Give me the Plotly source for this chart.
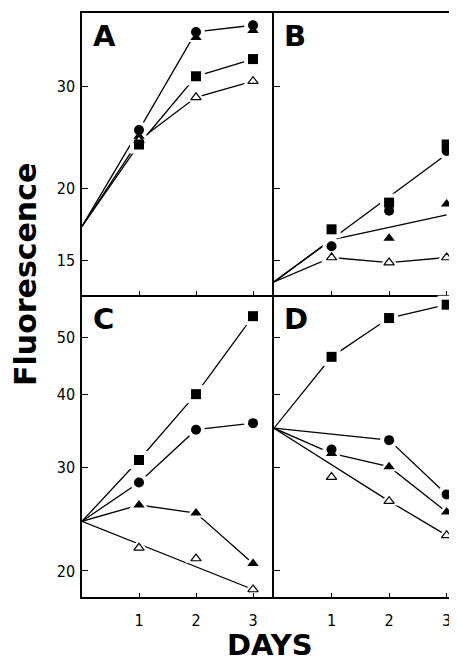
import plotly.graph_objects as go
import math

days = [0, 1, 2, 3]
days_m = [1, 2, 3]

# Panel A
A_circle = [17.2, 25.2, 37.2, 38.2]
A_ftri = [24.6, 36.4, 37.4]
A_square = [17.2, 23.8, 31.2, 33.4]
A_otri = [17.2, 24.2, 28.7, 30.6]

# Panel B
B_circle = [15.9, 18.3, 23.2]
B_square = [17.0, 18.9, 23.8]
B_ftri = [None, 16.4, 18.8]
B_otri = [13.8, 15.2, 14.9, 15.2]
B_fit_hi_x = [0, 3]
B_fit_hi = [13.8, 22.9]
B_fit_lo_x = [0, 1, 3]
B_fit_lo = [13.8, 16.3, 18.0]

# Panel C
C_square = [24.3, 30.9, 40.0, 54.3]
C_circle = [24.3, 28.3, 34.8, 35.7]
C_ftri = [24.3, 25.9, 25.1, 20.6]
C_otri = [21.9, 21.0, 18.6]
C_otri_line_x = [0, 3]
C_otri_line = [24.3, 18.6]

# Panel D
D_square = [35.0, 46.3, 53.9, 56.8]
D_circle = [32.2, 33.4, 27.0]
D_circle_line_x = [0, 2, 3]
D_circle_line = [35.0, 33.4, 27.0]
D_ftri = [35.0, 31.7, 30.1, 25.2]
D_otri = [28.9, 26.3, 23.0]
D_otri_line_x = [0, 2, 3]
D_otri_line = [35.0, 26.3, 23.0]

top_ticks = [15, 20, 30]
bot_ticks = [20, 30, 40, 50]
x_ticks = [1, 2, 3]

fig = go.Figure()

LW = 1.3
MS = 10

def line(x, y, ax):
    fig.add_trace(go.Scatter(x=x, y=y, mode="lines", xaxis=ax[0], yaxis=ax[1],
                             line=dict(color="black", width=LW), showlegend=False,
                             hoverinfo="skip"))

def markers(x, y, ax, sym, open_=False, halo=False):
    if halo:
        fig.add_trace(go.Scatter(x=x, y=y, mode="markers", xaxis=ax[0], yaxis=ax[1],
                                 marker=dict(symbol=sym, size=MS + 8, color="white",
                                             line=dict(width=0)),
                                 showlegend=False, hoverinfo="skip"))
        return
    if open_:
        mk = dict(symbol=sym, size=MS - 1, color="white", line=dict(color="black", width=1.2))
    else:
        mk = dict(symbol=sym, size=MS, color="black", line=dict(width=0))
    fig.add_trace(go.Scatter(x=x, y=y, mode="markers", xaxis=ax[0], yaxis=ax[1],
                             marker=mk, showlegend=False, hoverinfo="skip"))

axA = ("x", "y")
axB = ("x2", "y2")
axC = ("x3", "y3")
axD = ("x4", "y4")

# lines
line(days, A_circle, axA)
line(days, A_square, axA)
line(days, A_otri, axA)
line(B_fit_hi_x, B_fit_hi, axB)
line(B_fit_lo_x, B_fit_lo, axB)
line(days, B_otri, axB)
line(days, C_square, axC)
line(days, C_circle, axC)
line(days, C_ftri, axC)
line(C_otri_line_x, C_otri_line, axC)
line(days, D_square, axD)
line(D_circle_line_x, D_circle_line, axD)
line(days, D_ftri, axD)
line(D_otri_line_x, D_otri_line, axD)

marker_sets = [
    (days_m, A_circle[1:], axA, "circle", False),
    (days_m, A_ftri, axA, "triangle-up", False),
    (days_m, A_otri[1:], axA, "triangle-up", True),
    (days_m, A_square[1:], axA, "square", False),
    (days_m, B_circle, axB, "circle", False),
    (days_m, B_square, axB, "square", False),
    (days_m, B_ftri, axB, "triangle-up", False),
    (days_m, B_otri[1:], axB, "triangle-up", True),
    (days_m, C_square[1:], axC, "square", False),
    (days_m, C_circle[1:], axC, "circle", False),
    (days_m, C_ftri[1:], axC, "triangle-up", False),
    (days_m, C_otri, axC, "triangle-up", True),
    (days_m, D_square[1:], axD, "square", False),
    (days_m, D_circle, axD, "circle", False),
    (days_m, D_ftri[1:], axD, "triangle-up", False),
    (days_m, D_otri, axD, "triangle-up", True),
]
for x, y, ax, sym, op in marker_sets:
    markers(x, y, ax, sym, op, halo=True)
for x, y, ax, sym, op in marker_sets:
    markers(x, y, ax, sym, op)

OFF = 8  # page body margin
W, H = 457 - OFF, 662 - OFF

def px(v):
    return (v - OFF) / W

def py(v):
    return 1 - (v - OFF) / H

xl0, xmid, xr = px(82), px(274), 1.0
yt, ymid, yb = py(13), py(295), py(597)

tickfont = dict(family="DejaVu Sans Condensed, Liberation Sans Narrow, DejaVu Sans", size=16, color="black")

def xax(domain, rng, labels, mirror):
    return dict(domain=domain, range=rng, showgrid=False, zeroline=False, showline=True,
                linecolor="black", linewidth=1.5, mirror=mirror, ticks="inside", ticklen=4,
                tickcolor="black", tickwidth=1.2, tickvals=x_ticks,
                showticklabels=labels, tickfont=tickfont, ticklabelstandoff=8)

def yax(domain, rng, tv, labels, anchor):
    return dict(domain=domain, type="log", range=[math.log10(rng[0]), math.log10(rng[1])],
                showgrid=False, zeroline=False, showline=True, linecolor="black", linewidth=1.5,
                ticks="inside", ticklen=6, tickcolor="black", tickwidth=1.2, tickvals=tv,
                ticktext=[str(v) for v in tv], showticklabels=labels, tickfont=tickfont,
                anchor=anchor, ticklabelstandoff=2)

top_rng = (13.1, 40.1)
bot_rng = (18.06, 59.0)

fig.update_layout(
    width=W, height=H, margin=dict(l=0, r=0, t=0, b=0),
    paper_bgcolor="white", plot_bgcolor="white",
    xaxis=xax([xl0, xmid], [0, 3.368], False, True),
    xaxis2=xax([xmid, xr], [0, 3.18], False, True),
    xaxis3=xax([xl0, xmid], [0, 3.368], True, False),
    xaxis4=xax([xmid, xr], [0, 3.18], True, False),
    yaxis=yax([ymid, yt], top_rng, top_ticks, True, "x"),
    yaxis2=yax([ymid, yt], top_rng, top_ticks, False, "x2"),
    yaxis3=yax([yb, ymid], bot_rng, bot_ticks, True, "x3"),
    yaxis4=yax([yb, ymid], bot_rng, bot_ticks, False, "x4"),
)
fig.layout.xaxis.anchor = "y"
fig.layout.xaxis2.anchor = "y2"
fig.layout.xaxis3.anchor = "y3"
fig.layout.xaxis4.anchor = "y4"

lab_font = dict(family="DejaVu Sans", size=29, color="black")
for txt, xr_, yr_ in [("A", "x", "y"), ("B", "x2", "y2"), ("C", "x3", "y3"), ("D", "x4", "y4")]:
    fig.add_annotation(text="<b>%s</b>" % txt, xref=xr_ + " domain", yref=yr_ + " domain",
                       x=0.045, y=0.985, xanchor="left", yanchor="top", showarrow=False,
                       font=lab_font)

fig.add_annotation(text="<b>Fluorescence</b>", xref="paper", yref="paper",
                   x=px(25), y=py(275), textangle=-90, showarrow=False,
                   xanchor="center", yanchor="middle",
                   font=dict(family="DejaVu Sans", size=30, color="black"))
fig.add_annotation(text="<b>DAYS</b>", xref="paper", yref="paper",
                   x=px(270), y=py(645), showarrow=False,
                   xanchor="center", yanchor="middle",
                   font=dict(family="DejaVu Sans", size=29, color="black"))

fig.write_html("out.html")
